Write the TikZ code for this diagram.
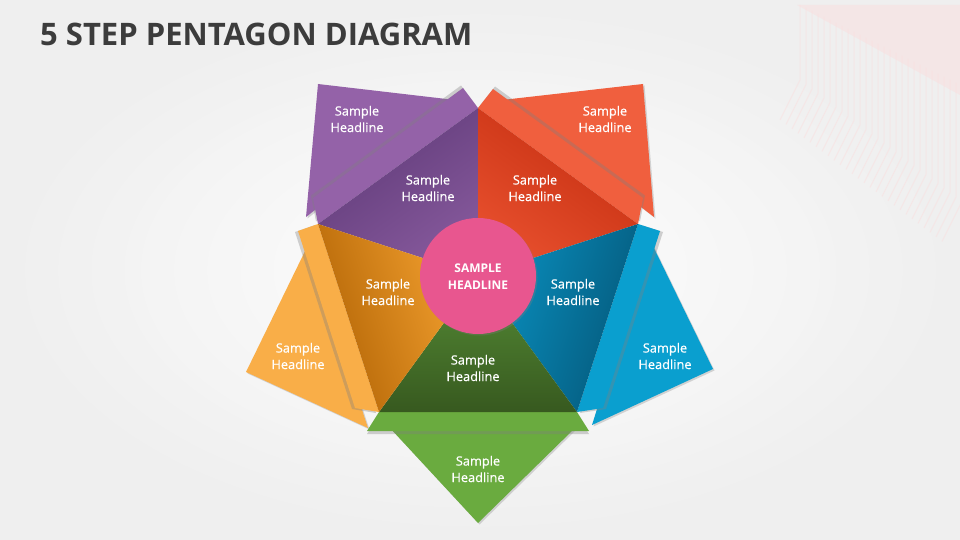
\documentclass[tikz,border=0pt]{standalone}
\usepackage{fontspec}
\setmainfont{Open Sans}
\usetikzlibrary{shadows}
\definecolor{titlec}{HTML}{3C3C3C}
\definecolor{purL}{HTML}{9462A8}
\definecolor{purD1}{HTML}{5F3A78}
\definecolor{purD2}{HTML}{86599C}
\definecolor{redL}{HTML}{F05F3E}
\definecolor{redD1}{HTML}{C42E10}
\definecolor{redD2}{HTML}{E8502E}
\definecolor{bluL}{HTML}{0A9FCF}
\definecolor{bluD1}{HTML}{04587A}
\definecolor{bluD2}{HTML}{0A92C2}
\definecolor{grnL}{HTML}{6AAB3F}
\definecolor{grnD1}{HTML}{37591F}
\definecolor{grnD2}{HTML}{568C36}
\definecolor{oraL}{HTML}{F9AE48}
\definecolor{oraD1}{HTML}{B26405}
\definecolor{oraD2}{HTML}{F7A432}
\definecolor{pinkc}{HTML}{E8568F}
\definecolor{bgedge}{HTML}{E2E2E2}
\definecolor{decor}{HTML}{FBDCDC}
\tikzset{
  piece/.style={drop shadow={shadow xshift=1.5pt,shadow yshift=-1.5pt,opacity=0.3}},
  stripsh/.style 2 args={drop shadow={shadow xshift=#1,shadow yshift=#2,opacity=0.35}},
  lbl/.style={text=white,font=\fontsize{12.8}{16.5}\selectfont\addfontfeatures{FakeBold=0.5},align=center},
}
\begin{document}
\begin{tikzpicture}[x=1pt,y=-1pt]
\useasboundingbox (0,0) rectangle (960,540);
% background
\shade[inner color=white,outer color=bgedge] (0,0) rectangle (960,540);
\fill[white,opacity=0.45] (0,0) rectangle (960,540);
% faint decoration top right
\fill[decor,opacity=0.45] (797,5) -- (960,5) -- (960,95) -- cycle;
\foreach \i in {0,...,27}{
  \pgfmathsetmacro{\xx}{800+\i*6}
  \pgfmathsetmacro{\ya}{5+\i*3}
  \pgfmathsetmacro{\yb}{80+\i*4.5}
  \draw[decor,line width=1pt,opacity=0.45] (\xx,\ya) -- (\xx,\yb) -- ++(-20,40);
}
% title
\node[anchor=base west,inner sep=0pt,text=titlec,font=\fontsize{31}{36}\selectfont\bfseries] (title) at (40,46) {5 STEP PENTAGON DIAGRAM};
% pentagon coordinates
\coordinate (C) at (478,276);
\coordinate (T) at (478,108);
\coordinate (UR) at (638,224);
\coordinate (LR) at (577,412);
\coordinate (LL) at (379,412);
\coordinate (UL) at (318,224);
% flaps
\fill[purL,piece] (318,84) -- (455,100) -- (306,217) -- cycle;
\fill[redL,piece] (643,84) -- (502,100) -- (654,217) -- cycle;
\fill[bluL,piece] (650,240) -- (713,369) -- (592,425) -- cycle;
\fill[oraL,piece] (308,245) -- (246,372) -- (368,428) -- cycle;
\fill[grnL,piece] (390,428) -- (575,428) -- (478,523) -- cycle;
% strips
\fill[purL,stripsh={-2pt}{2.5pt}] (UL) -- (T) -- (463,88) -- (313,198) -- cycle;
\fill[redL,stripsh={2pt}{2.5pt}] (T) -- (UR) -- (643,198) -- (493,89) -- cycle;
\fill[bluL,stripsh={3pt}{-1pt}] (UR) -- (660,231) -- (603,408) -- (LR) -- cycle;
\fill[oraL,stripsh={-3pt}{-1pt}] (UL) -- (LL) -- (355,408) -- (298,231) -- cycle;
\fill[grnL,stripsh={0pt}{-3pt}] (LL) -- (LR) -- (589,431) -- (367,431) -- cycle;
% inner segments
\shade[top color=purD1,bottom color=purD2,shading angle=36] (C) -- (UL) -- (T) -- cycle;
\shade[top color=redD1,bottom color=redD2,shading angle=-36] (C) -- (T) -- (UR) -- cycle;
\shade[top color=bluD1,bottom color=bluD2,shading angle=-108] (C) -- (UR) -- (LR) -- cycle;
\shade[top color=grnD1,bottom color=grnD2,shading angle=180] (C) -- (LR) -- (LL) -- cycle;
\shade[top color=oraD1,bottom color=oraD2,shading angle=108] (C) -- (LL) -- (UL) -- cycle;
% centre circle
\node[circle,fill=pinkc,minimum size=116pt,inner sep=0pt,piece] (hub) at (C) {};
\node[text=white,font=\fontsize{12}{17}\selectfont\bfseries,align=center] (hubt) at (478,277) {SAMPLE\\HEADLINE};
% labels
\node[lbl] (p1) at (357,119) {Sample\\Headline};
\node[lbl] (p2) at (428,188) {Sample\\Headline};
\node[lbl] (r2) at (535,188) {Sample\\Headline};
\node[lbl] (r1) at (605,119) {Sample\\Headline};
\node[lbl] (o2) at (388,292) {Sample\\Headline};
\node[lbl] (b2) at (573,292) {Sample\\Headline};
\node[lbl] (o1) at (298,356) {Sample\\Headline};
\node[lbl] (b1) at (665,356) {Sample\\Headline};
\node[lbl] (g2) at (473,368) {Sample\\Headline};
\node[lbl] (g1) at (478,469) {Sample\\Headline};
\end{tikzpicture}
\end{document}
